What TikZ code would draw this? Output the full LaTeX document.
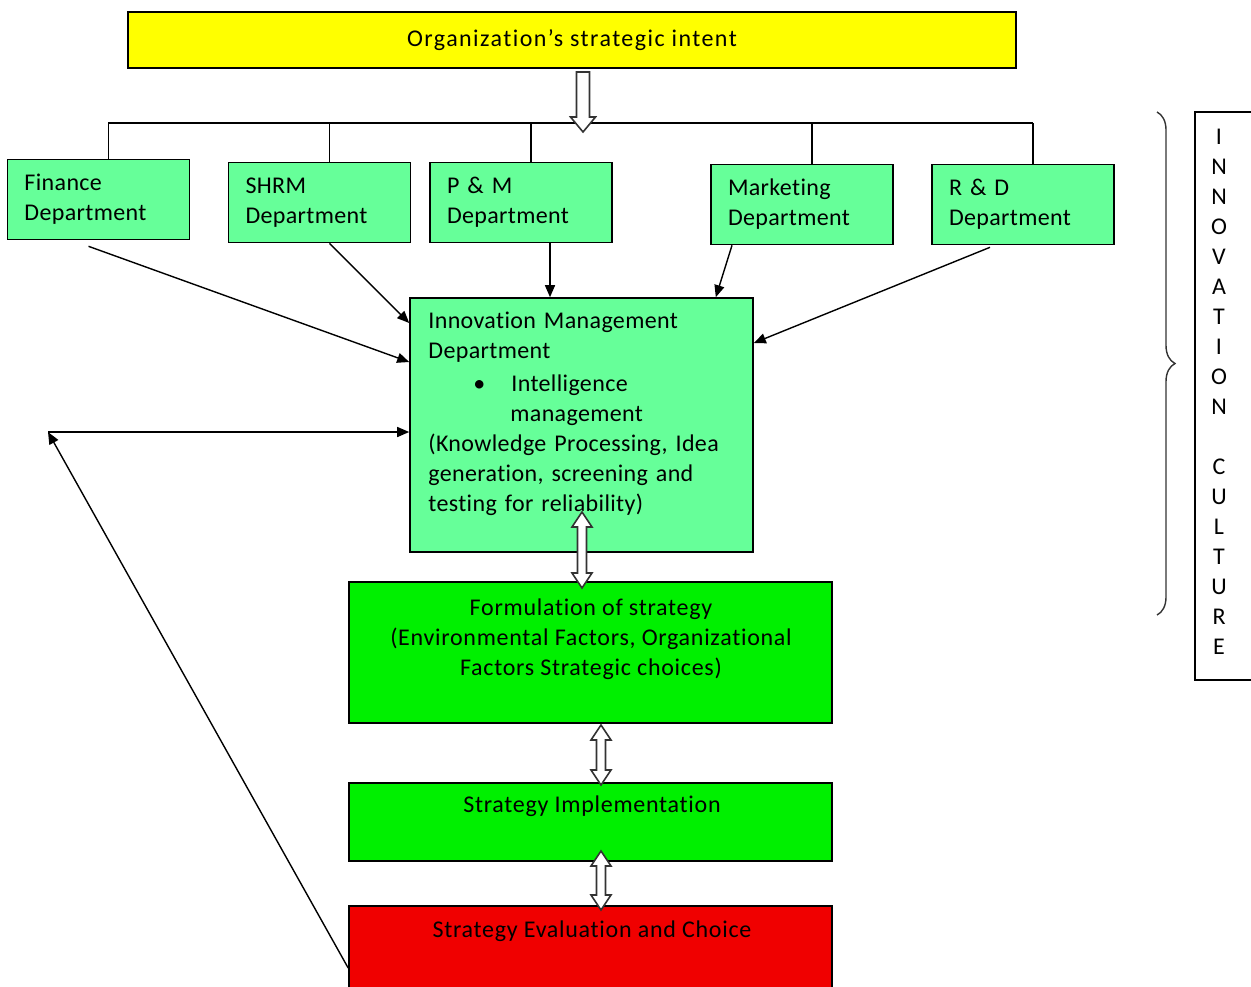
\documentclass[tikz,border=0pt]{standalone}
\usepackage{fontspec}
\setmainfont{Carlito}[LetterSpace=1.5, Ligatures=NoCommon]
\newfontfamily\stratfont{Carlito}[LetterSpace=3, Ligatures=NoCommon]
\newfontfamily\intentfont{Carlito}[LetterSpace=6, Ligatures=NoCommon]
\usetikzlibrary{arrows.meta,calc,decorations.pathreplacing}

\definecolor{intentyellow}{RGB}{255,255,0}
\definecolor{deptgreen}{RGB}{102,255,153}
\definecolor{stratgreen}{RGB}{0,240,0}
\definecolor{evalred}{RGB}{240,0,0}

\tikzset{
  box/.style={draw=black, line width=0.8pt, inner sep=0pt},
  dept/.style={box, fill=deptgreen, minimum height=40pt, text width=74pt, inner xsep=8.5pt, align=left},
  stratbox/.style={box, fill=stratgreen, minimum width=241.5pt},
  strattext/.style={inner sep=0pt, font=\stratfont\fontsize{12}{15}\selectfont},
  conn/.style={line width=0.7pt, -{Triangle[length=6pt,width=5pt]}},
  hollow/.style={draw=black!80, line width=0.8pt, fill=white},
}

% hollow two-headed arrow between two named points (same x)
\newcommand{\dblarrow}[2]{%
  \draw[hollow] let \p1=(#1), \p2=(#2) in
    (\x1,\y1) -- (\x1+5pt,\y1-7.5pt) -- (\x1+2.25pt,\y1-7.5pt) -- (\x1+2.25pt,\y2+7.5pt)
    -- (\x1+5pt,\y2+7.5pt) -- (\x1,\y2) -- (\x1-5pt,\y2+7.5pt) -- (\x1-2.25pt,\y2+7.5pt)
    -- (\x1-2.25pt,\y1-7.5pt) -- (\x1-5pt,\y1-7.5pt) -- cycle;}

\begin{document}
\begin{tikzpicture}[x=0.5pt, y=-0.5pt, font=\fontsize{12}{15}\selectfont]
  \useasboundingbox (0,0) rectangle (1251,986);

  % Strategic intent on top
  \node[box, fill=intentyellow, minimum width=444pt, minimum height=28pt,
        font=\intentfont\fontsize{12}{15}\selectfont] (intent) at (572,40)
    {Organization’s strategic intent};

  % Departments
  \node[dept] (fin)  at (98.5,199.5) {Finance\\Department};
  \node[dept] (shrm) at (319.5,202.5) {SHRM\\Department};
  \node[dept] (pm)   at (521,202.5)   {P \& M\\Department};
  \node[dept] (mkt)  at (802,204.5)   {Marketing\\Department};
  \node[dept] (rnd)  at (1023,204.5)  {R \& D\\Department};

  % Innovation management department
  \node[box, fill=deptgreen, minimum width=171.5pt, minimum height=127pt] (imd) at (581.5,425) {};
  \node[anchor=north west, inner sep=0pt, text width=165pt, align=left] (imdtext) at (428,312)
    {Innovation Management\\
     Department\\[1.5pt]
     \hspace*{22.5pt}\textbullet\hspace*{13pt}Intelligence\\
     \hspace*{41pt}management\\
     (Knowledge Processing, Idea\\
     generation, screening and\\
     testing for reliability)};

  % Strategy boxes
  \node[stratbox, minimum height=70.5pt] (form) at (590.5,652.5) {};
  \node[strattext, anchor=north, align=center] (formtext) at (591,598)
    {Formulation of strategy\\
     (Environmental Factors, Organizational\\
     Factors Strategic choices)};
  \node[stratbox, minimum height=39pt] (impl) at (590.5,822) {};
  \node[strattext] (impltext) at (592,806) {Strategy Implementation};
  \node[box, fill=evalred, minimum width=241.5pt, minimum height=62pt] (eval) at (590.5,968) {};
  \node[strattext] (evaltext) at (592,931) {Strategy Evaluation and Choice};

  % Bus from the intent to the departments
  \coordinate (busL) at (108,123);
  \coordinate (busR) at (1033,123);
  \draw[line width=0.7pt] (busL) -- (busR);
  \foreach \d in {fin,shrm,pm,mkt,rnd}
    \draw[line width=0.7pt] ([xshift=5pt]\d.north) -- ([xshift=5pt]\d.north |- busL);

  % Hollow arrow down from the intent
  \coordinate (arrA) at (583,72);
  \coordinate (arrB) at (583,132);
  \draw[hollow] let \p1=(arrA), \p2=(arrB) in
    (\x1-3.25pt,\y1) -- (\x1+3.25pt,\y1) -- (\x1+3.25pt,\y2+7.5pt) -- (\x1+6.25pt,\y2+7.5pt)
    -- (\x1,\y2) -- (\x1-6.25pt,\y2+7.5pt) -- (\x1-3.25pt,\y2+7.5pt) -- cycle;

  % Departments feed the innovation management department
  \draw[conn] ([xshift=-5pt,yshift=-3pt]fin.south) -- ([yshift=31.5pt]imd.west);
  \draw[conn] ([xshift=5pt]shrm.south) -- ([yshift=51pt]imd.west);
  \draw[conn] ([xshift=14.5pt]pm.south) -- ([xshift=14.5pt]pm.south |- imd.north);
  \draw[conn] ([xshift=-35pt]mkt.south) -- ([xshift=-19pt]imd.north east);
  \draw[conn] ([xshift=-16.5pt,yshift=-1pt]rnd.south) -- ([yshift=41pt]imd.east);

  % Two-way hollow arrows down the strategy chain
  \coordinate (d1a) at (582,512);  \coordinate (d1b) at (582,588);
  \coordinate (d2a) at (601,725);  \coordinate (d2b) at (601,785);
  \coordinate (d3a) at (601,851);  \coordinate (d3b) at (601,910);
  \dblarrow{d1a}{d1b}
  \dblarrow{d2a}{d2b}
  \dblarrow{d3a}{d3b}

  % Feedback loop
  \coordinate (fb) at (48,432);
  \draw[conn] (eval.west) -- (fb);
  \draw[conn] (fb) -- (fb -| imd.west);

  % Innovation culture
  \draw[black!80, line width=0.7pt, decorate, decoration={brace, amplitude=9pt}] (1157,112) -- (1157,615);
  \node[box, minimum width=50pt, minimum height=284pt] (cultbox) at (1245,396) {};
  \node[inner sep=0pt, align=center] (culture) at (1219,392)
    {I\\N\\N\\O\\V\\A\\T\\I\\O\\N\\[15pt]C\\U\\L\\T\\U\\R\\E};
\end{tikzpicture}
\end{document}
